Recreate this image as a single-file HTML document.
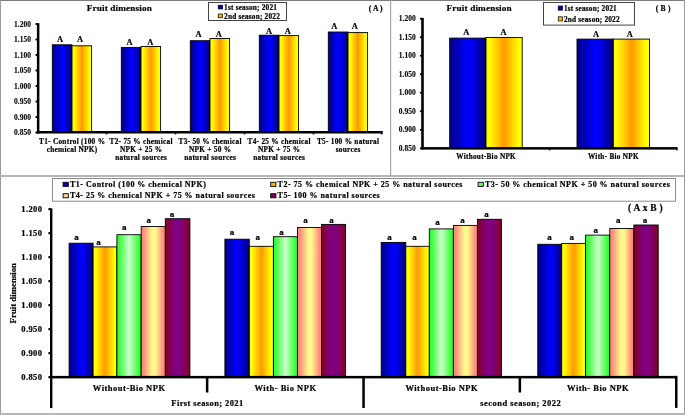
<!DOCTYPE html>
<html><head><meta charset="utf-8"><style>
html,body{margin:0;padding:0;background:#fff;overflow:hidden;}
svg{display:block;will-change:transform;}
text{font-family:"Liberation Serif", serif;font-weight:bold;fill:#000;stroke:#000;stroke-width:0.2px;}
.ns{stroke-width:0.1px;}
</style></head><body>
<svg width="685" height="415" viewBox="0 0 685 415">
<defs>
<linearGradient id="gBlue" x1="0" x2="1" y1="0" y2="0"><stop offset="0" stop-color="#000088"/><stop offset="0.5" stop-color="#0000ff"/><stop offset="0.58" stop-color="#0000fa"/><stop offset="1" stop-color="#000078"/></linearGradient>
<linearGradient id="gYel" x1="0" x2="1" y1="0" y2="0"><stop offset="0" stop-color="#ffff00"/><stop offset="0.1" stop-color="#ffff00"/><stop offset="0.5" stop-color="#ff9900"/><stop offset="0.9" stop-color="#ffff00"/><stop offset="1" stop-color="#ffff00"/></linearGradient>
<linearGradient id="gGrn" x1="0" x2="1" y1="0" y2="0"><stop offset="0" stop-color="#33ff33"/><stop offset="0.1" stop-color="#3cff3c"/><stop offset="0.5" stop-color="#ccffcc"/><stop offset="0.9" stop-color="#3cff3c"/><stop offset="1" stop-color="#22ee22"/></linearGradient>
<linearGradient id="gPch" x1="0" x2="1" y1="0" y2="0"><stop offset="0" stop-color="#ff8a7a"/><stop offset="0.1" stop-color="#ff8c7c"/><stop offset="0.45" stop-color="#fff88c"/><stop offset="0.6" stop-color="#fff88c"/><stop offset="0.9" stop-color="#ff8c7c"/><stop offset="1" stop-color="#ff8a7a"/></linearGradient>
<linearGradient id="gPur" x1="0" x2="1" y1="0" y2="0"><stop offset="0" stop-color="#850022"/><stop offset="0.38" stop-color="#800080"/><stop offset="0.62" stop-color="#800080"/><stop offset="1" stop-color="#850022"/></linearGradient>
</defs>
<rect x="0.00" y="0.00" width="685.00" height="415.00" fill="#fff" />
<text x="119.38" y="10.90" font-size="9.2" text-anchor="middle"  letter-spacing="0.15">Fruit dimension</text>
<rect x="208.5" y="2.5" width="78" height="18" fill="#fff" stroke="#444" stroke-width="1"/>
<rect x="218.20" y="5.20" width="4.40" height="3.80" fill="#0000cc" stroke="#000" stroke-width="0.7"/>
<rect x="218.20" y="14.00" width="4.40" height="3.80" fill="#ffb300" stroke="#000" stroke-width="0.7"/>
<text x="224.10" y="9.70" font-size="7.3" text-anchor="start"  letter-spacing="0.2">1st season; 2021</text>
<text x="224.10" y="18.90" font-size="7.3" text-anchor="start"  letter-spacing="0.2">2nd season; 2022</text>
<text x="375.72" y="10.60" font-size="7.6" text-anchor="middle"  letter-spacing="0.05">( A )</text>
<text x="31.15" y="26.60" font-size="7.5" text-anchor="end" class="ns" letter-spacing="0.05">1.200</text>
<rect x="35.40" y="23.00" width="2.50" height="2.00" fill="#000" rx="0.9"/>
<text x="31.15" y="42.09" font-size="7.5" text-anchor="end" class="ns" letter-spacing="0.05">1.150</text>
<rect x="35.40" y="38.49" width="2.50" height="2.00" fill="#000" rx="0.9"/>
<text x="31.15" y="57.57" font-size="7.5" text-anchor="end" class="ns" letter-spacing="0.05">1.100</text>
<rect x="35.40" y="53.97" width="2.50" height="2.00" fill="#000" rx="0.9"/>
<text x="31.15" y="73.06" font-size="7.5" text-anchor="end" class="ns" letter-spacing="0.05">1.050</text>
<rect x="35.40" y="69.46" width="2.50" height="2.00" fill="#000" rx="0.9"/>
<text x="31.15" y="88.54" font-size="7.5" text-anchor="end" class="ns" letter-spacing="0.05">1.000</text>
<rect x="35.40" y="84.94" width="2.50" height="2.00" fill="#000" rx="0.9"/>
<text x="31.15" y="104.03" font-size="7.5" text-anchor="end" class="ns" letter-spacing="0.05">0.950</text>
<rect x="35.40" y="100.43" width="2.50" height="2.00" fill="#000" rx="0.9"/>
<text x="31.15" y="119.51" font-size="7.5" text-anchor="end" class="ns" letter-spacing="0.05">0.900</text>
<rect x="35.40" y="115.91" width="2.50" height="2.00" fill="#000" rx="0.9"/>
<text x="31.15" y="135.00" font-size="7.5" text-anchor="end" class="ns" letter-spacing="0.05">0.850</text>
<rect x="35.40" y="131.40" width="2.50" height="2.00" fill="#000" rx="0.9"/>
<rect x="52.30" y="44.80" width="19.70" height="87.60" fill="url(#gBlue)" stroke="#000" stroke-width="0.9"/>
<rect x="72.00" y="45.80" width="19.60" height="86.60" fill="url(#gYel)" stroke="#000" stroke-width="0.9"/>
<text x="60.00" y="41.90" font-size="8.4" text-anchor="middle" >A</text>
<text x="80.10" y="41.90" font-size="8.4" text-anchor="middle" >A</text>
<text x="72.14" y="143.60" font-size="7.3" text-anchor="middle"  letter-spacing="0.27">T1- Control (100 %</text>
<text x="72.14" y="151.65" font-size="7.3" text-anchor="middle"  letter-spacing="0.27">chemical NPK)</text>
<rect x="121.30" y="47.40" width="19.70" height="85.00" fill="url(#gBlue)" stroke="#000" stroke-width="0.9"/>
<rect x="141.00" y="46.50" width="19.60" height="85.90" fill="url(#gYel)" stroke="#000" stroke-width="0.9"/>
<text x="129.60" y="45.20" font-size="8.4" text-anchor="middle" >A</text>
<text x="150.20" y="45.20" font-size="8.4" text-anchor="middle" >A</text>
<text x="141.13" y="143.60" font-size="7.3" text-anchor="middle"  letter-spacing="0.27">T2- 75 % chemical</text>
<text x="141.13" y="151.65" font-size="7.3" text-anchor="middle"  letter-spacing="0.27">NPK + 25 %</text>
<text x="141.13" y="159.70" font-size="7.3" text-anchor="middle"  letter-spacing="0.27">natural sources</text>
<rect x="190.30" y="40.70" width="19.70" height="91.70" fill="url(#gBlue)" stroke="#000" stroke-width="0.9"/>
<rect x="210.00" y="38.50" width="19.60" height="93.90" fill="url(#gYel)" stroke="#000" stroke-width="0.9"/>
<text x="198.50" y="36.70" font-size="8.4" text-anchor="middle" >A</text>
<text x="218.90" y="36.70" font-size="8.4" text-anchor="middle" >A</text>
<text x="210.13" y="143.60" font-size="7.3" text-anchor="middle"  letter-spacing="0.27">T3- 50 % chemical</text>
<text x="210.13" y="151.65" font-size="7.3" text-anchor="middle"  letter-spacing="0.27">NPK + 50 %</text>
<text x="210.13" y="159.70" font-size="7.3" text-anchor="middle"  letter-spacing="0.27">natural sources</text>
<rect x="259.30" y="35.20" width="19.70" height="97.20" fill="url(#gBlue)" stroke="#000" stroke-width="0.9"/>
<rect x="279.00" y="35.60" width="19.60" height="96.80" fill="url(#gYel)" stroke="#000" stroke-width="0.9"/>
<text x="269.10" y="33.90" font-size="8.4" text-anchor="middle" >A</text>
<text x="287.70" y="33.90" font-size="8.4" text-anchor="middle" >A</text>
<text x="279.13" y="143.60" font-size="7.3" text-anchor="middle"  letter-spacing="0.27">T4- 25 % chemical</text>
<text x="279.13" y="151.65" font-size="7.3" text-anchor="middle"  letter-spacing="0.27">NPK + 75 %</text>
<text x="279.13" y="159.70" font-size="7.3" text-anchor="middle"  letter-spacing="0.27">natural sources</text>
<rect x="328.30" y="32.00" width="19.70" height="100.40" fill="url(#gBlue)" stroke="#000" stroke-width="0.9"/>
<rect x="348.00" y="32.60" width="19.60" height="99.80" fill="url(#gYel)" stroke="#000" stroke-width="0.9"/>
<text x="334.30" y="29.00" font-size="8.4" text-anchor="middle" >A</text>
<text x="354.90" y="29.00" font-size="8.4" text-anchor="middle" >A</text>
<text x="348.13" y="143.60" font-size="7.3" text-anchor="middle"  letter-spacing="0.27">T5- 100 % natural</text>
<text x="348.13" y="151.65" font-size="7.3" text-anchor="middle"  letter-spacing="0.27">sources</text>
<rect x="36.90" y="23.20" width="2.50" height="110.40" fill="#000" />
<rect x="36.90" y="131.00" width="345.60" height="2.50" fill="#000" />
<rect x="105.70" y="132.40" width="1.60" height="2.00" fill="#000" />
<rect x="174.70" y="132.40" width="1.60" height="2.00" fill="#000" />
<rect x="243.70" y="132.40" width="1.60" height="2.00" fill="#000" />
<rect x="312.70" y="132.40" width="1.60" height="2.00" fill="#000" />
<rect x="380.90" y="131.40" width="1.60" height="3.00" fill="#000" />
<text x="479.18" y="10.90" font-size="9.2" text-anchor="middle"  letter-spacing="0.15">Fruit dimension</text>
<rect x="543.5" y="2.5" width="91" height="22.6" fill="#fff" stroke="#444" stroke-width="1"/>
<rect x="558.20" y="6.00" width="4.40" height="4.20" fill="#0000cc" stroke="#000" stroke-width="0.7"/>
<rect x="558.20" y="16.80" width="4.40" height="4.20" fill="#ffb300" stroke="#000" stroke-width="0.7"/>
<text x="563.90" y="11.00" font-size="7.3" text-anchor="start"  letter-spacing="0.2">1st season; 2021</text>
<text x="563.90" y="22.20" font-size="7.3" text-anchor="start"  letter-spacing="0.2">2nd season; 2022</text>
<text x="663.20" y="11.00" font-size="7.6" text-anchor="middle"  letter-spacing="0.2">( B )</text>
<text x="415.85" y="21.30" font-size="7.5" text-anchor="end" class="ns" letter-spacing="0.05">1.200</text>
<rect x="419.90" y="17.70" width="2.50" height="2.00" fill="#000" rx="0.9"/>
<text x="415.85" y="39.81" font-size="7.5" text-anchor="end" class="ns" letter-spacing="0.05">1.150</text>
<rect x="419.90" y="36.21" width="2.50" height="2.00" fill="#000" rx="0.9"/>
<text x="415.85" y="58.33" font-size="7.5" text-anchor="end" class="ns" letter-spacing="0.05">1.100</text>
<rect x="419.90" y="54.73" width="2.50" height="2.00" fill="#000" rx="0.9"/>
<text x="415.85" y="76.84" font-size="7.5" text-anchor="end" class="ns" letter-spacing="0.05">1.050</text>
<rect x="419.90" y="73.24" width="2.50" height="2.00" fill="#000" rx="0.9"/>
<text x="415.85" y="95.36" font-size="7.5" text-anchor="end" class="ns" letter-spacing="0.05">1.000</text>
<rect x="419.90" y="91.76" width="2.50" height="2.00" fill="#000" rx="0.9"/>
<text x="415.85" y="113.87" font-size="7.5" text-anchor="end" class="ns" letter-spacing="0.05">0.950</text>
<rect x="419.90" y="110.27" width="2.50" height="2.00" fill="#000" rx="0.9"/>
<text x="415.85" y="132.39" font-size="7.5" text-anchor="end" class="ns" letter-spacing="0.05">0.900</text>
<rect x="419.90" y="128.79" width="2.50" height="2.00" fill="#000" rx="0.9"/>
<text x="415.85" y="150.90" font-size="7.5" text-anchor="end" class="ns" letter-spacing="0.05">0.850</text>
<rect x="419.90" y="147.30" width="2.50" height="2.00" fill="#000" rx="0.9"/>
<rect x="449.70" y="38.10" width="36.30" height="110.20" fill="url(#gBlue)" stroke="#000" stroke-width="0.9"/>
<rect x="486.00" y="37.50" width="36.20" height="110.80" fill="url(#gYel)" stroke="#000" stroke-width="0.9"/>
<text x="466.40" y="34.50" font-size="8.4" text-anchor="middle" >A</text>
<text x="503.50" y="34.50" font-size="8.4" text-anchor="middle" >A</text>
<text x="486.15" y="158.60" font-size="7.2" text-anchor="middle"  letter-spacing="0.3">Without-Bio NPK</text>
<rect x="577.00" y="39.10" width="36.30" height="109.20" fill="url(#gBlue)" stroke="#000" stroke-width="0.9"/>
<rect x="613.30" y="39.10" width="36.20" height="109.20" fill="url(#gYel)" stroke="#000" stroke-width="0.9"/>
<text x="596.00" y="36.60" font-size="8.4" text-anchor="middle" >A</text>
<text x="629.80" y="36.60" font-size="8.4" text-anchor="middle" >A</text>
<text x="613.45" y="158.60" font-size="7.2" text-anchor="middle"  letter-spacing="0.3">With- Bio NPK</text>
<rect x="421.20" y="17.90" width="2.60" height="131.50" fill="#000" />
<rect x="421.20" y="147.10" width="256.00" height="2.50" fill="#000" />
<rect x="548.80" y="148.30" width="1.60" height="2.00" fill="#000" />
<rect x="676.00" y="147.30" width="1.60" height="3.00" fill="#000" />
<rect x="52.5" y="178.5" width="623" height="22.7" fill="#fff" stroke="#8a8a8a" stroke-width="1"/>
<rect x="63.10" y="182.30" width="5.20" height="4.10" fill="#0000cc" stroke="#000" stroke-width="0.9"/>
<text x="70.00" y="187.30" font-size="8.0" text-anchor="start"  letter-spacing="0.48">T1- Control (100 % chemical NPK)</text>
<rect x="270.70" y="182.30" width="5.20" height="4.10" fill="#ffb300" stroke="#000" stroke-width="0.9"/>
<text x="277.60" y="187.30" font-size="8.0" text-anchor="start"  letter-spacing="0.48">T2- 75 % chemical NPK + 25 % natural sources</text>
<rect x="478.10" y="182.30" width="5.20" height="4.10" fill="#66ff66" stroke="#000" stroke-width="0.9"/>
<text x="485.00" y="187.30" font-size="8.0" text-anchor="start"  letter-spacing="0.48">T3- 50 % chemical NPK + 50 % natural sources</text>
<rect x="63.10" y="193.70" width="5.20" height="4.10" fill="#ffd699" stroke="#000" stroke-width="0.9"/>
<text x="70.00" y="198.10" font-size="8.0" text-anchor="start"  letter-spacing="0.48">T4- 25 % chemical NPK + 75 % natural sources</text>
<rect x="270.70" y="193.70" width="5.20" height="4.10" fill="#800060" stroke="#000" stroke-width="0.9"/>
<text x="277.60" y="198.10" font-size="8.0" text-anchor="start"  letter-spacing="0.48">T5- 100 % natural sources</text>
<text x="645.42" y="211.00" font-size="9.5" text-anchor="middle"  letter-spacing="0.25">( A x B )</text>
<text x="42.40" y="212.20" font-size="8.5" text-anchor="end"  letter-spacing="0.4">1.200</text>
<rect x="48.30" y="208.10" width="2.60" height="2.20" fill="#000" rx="0.9"/>
<text x="42.40" y="236.20" font-size="8.5" text-anchor="end"  letter-spacing="0.4">1.150</text>
<rect x="48.30" y="232.10" width="2.60" height="2.20" fill="#000" rx="0.9"/>
<text x="42.40" y="260.20" font-size="8.5" text-anchor="end"  letter-spacing="0.4">1.100</text>
<rect x="48.30" y="256.10" width="2.60" height="2.20" fill="#000" rx="0.9"/>
<text x="42.40" y="284.20" font-size="8.5" text-anchor="end"  letter-spacing="0.4">1.050</text>
<rect x="48.30" y="280.10" width="2.60" height="2.20" fill="#000" rx="0.9"/>
<text x="42.40" y="308.20" font-size="8.5" text-anchor="end"  letter-spacing="0.4">1.000</text>
<rect x="48.30" y="304.10" width="2.60" height="2.20" fill="#000" rx="0.9"/>
<text x="42.40" y="332.20" font-size="8.5" text-anchor="end"  letter-spacing="0.4">0.950</text>
<rect x="48.30" y="328.10" width="2.60" height="2.20" fill="#000" rx="0.9"/>
<text x="42.40" y="356.20" font-size="8.5" text-anchor="end"  letter-spacing="0.4">0.900</text>
<rect x="48.30" y="352.10" width="2.60" height="2.20" fill="#000" rx="0.9"/>
<text x="42.40" y="380.20" font-size="8.5" text-anchor="end"  letter-spacing="0.4">0.850</text>
<rect x="48.30" y="376.10" width="2.60" height="2.20" fill="#000" rx="0.9"/>
<rect x="69.10" y="243.20" width="24.00" height="134.00" fill="url(#gBlue)" stroke="#000" stroke-width="0.9"/>
<text x="76.40" y="240.10" font-size="9.0" text-anchor="middle" >a</text>
<rect x="93.10" y="246.90" width="23.80" height="130.30" fill="url(#gYel)" stroke="#000" stroke-width="0.9"/>
<text x="98.60" y="244.60" font-size="9.0" text-anchor="middle" >a</text>
<rect x="116.90" y="234.70" width="24.30" height="142.50" fill="url(#gGrn)" stroke="#000" stroke-width="0.9"/>
<text x="124.20" y="229.90" font-size="9.0" text-anchor="middle" >a</text>
<rect x="141.20" y="226.50" width="24.10" height="150.70" fill="url(#gPch)" stroke="#000" stroke-width="0.9"/>
<text x="148.70" y="222.70" font-size="9.0" text-anchor="middle" >a</text>
<rect x="165.30" y="218.70" width="24.60" height="158.50" fill="url(#gPur)" stroke="#000" stroke-width="0.9"/>
<text x="171.90" y="216.60" font-size="9.0" text-anchor="middle" >a</text>
<rect x="224.90" y="239.20" width="24.40" height="138.00" fill="url(#gBlue)" stroke="#000" stroke-width="0.9"/>
<text x="231.90" y="234.60" font-size="9.0" text-anchor="middle" >a</text>
<rect x="249.30" y="246.30" width="24.10" height="130.90" fill="url(#gYel)" stroke="#000" stroke-width="0.9"/>
<text x="257.80" y="240.10" font-size="9.0" text-anchor="middle" >a</text>
<rect x="273.40" y="236.70" width="24.10" height="140.50" fill="url(#gGrn)" stroke="#000" stroke-width="0.9"/>
<text x="281.60" y="234.60" font-size="9.0" text-anchor="middle" >a</text>
<rect x="297.50" y="227.50" width="24.00" height="149.70" fill="url(#gPch)" stroke="#000" stroke-width="0.9"/>
<text x="305.50" y="223.10" font-size="9.0" text-anchor="middle" >a</text>
<rect x="321.50" y="224.40" width="24.10" height="152.80" fill="url(#gPur)" stroke="#000" stroke-width="0.9"/>
<text x="331.40" y="223.10" font-size="9.0" text-anchor="middle" >a</text>
<rect x="381.20" y="242.40" width="24.60" height="134.80" fill="url(#gBlue)" stroke="#000" stroke-width="0.9"/>
<text x="389.40" y="240.10" font-size="9.0" text-anchor="middle" >a</text>
<rect x="405.80" y="246.30" width="23.50" height="130.90" fill="url(#gYel)" stroke="#000" stroke-width="0.9"/>
<text x="414.40" y="240.10" font-size="9.0" text-anchor="middle" >a</text>
<rect x="429.30" y="228.90" width="24.10" height="148.30" fill="url(#gGrn)" stroke="#000" stroke-width="0.9"/>
<text x="437.50" y="225.40" font-size="9.0" text-anchor="middle" >a</text>
<rect x="453.40" y="225.40" width="24.00" height="151.80" fill="url(#gPch)" stroke="#000" stroke-width="0.9"/>
<text x="462.40" y="223.10" font-size="9.0" text-anchor="middle" >a</text>
<rect x="477.40" y="219.30" width="24.10" height="157.90" fill="url(#gPur)" stroke="#000" stroke-width="0.9"/>
<text x="486.40" y="217.00" font-size="9.0" text-anchor="middle" >a</text>
<rect x="537.80" y="244.30" width="23.90" height="132.90" fill="url(#gBlue)" stroke="#000" stroke-width="0.9"/>
<text x="549.40" y="240.10" font-size="9.0" text-anchor="middle" >a</text>
<rect x="561.70" y="243.40" width="23.90" height="133.80" fill="url(#gYel)" stroke="#000" stroke-width="0.9"/>
<text x="571.70" y="240.10" font-size="9.0" text-anchor="middle" >a</text>
<rect x="585.60" y="235.10" width="24.20" height="142.10" fill="url(#gGrn)" stroke="#000" stroke-width="0.9"/>
<text x="595.80" y="233.00" font-size="9.0" text-anchor="middle" >a</text>
<rect x="609.80" y="228.50" width="24.10" height="148.70" fill="url(#gPch)" stroke="#000" stroke-width="0.9"/>
<text x="618.30" y="222.70" font-size="9.0" text-anchor="middle" >a</text>
<rect x="633.90" y="225.00" width="24.30" height="152.20" fill="url(#gPur)" stroke="#000" stroke-width="0.9"/>
<text x="644.90" y="222.70" font-size="9.0" text-anchor="middle" >a</text>
<text x="129.20" y="391.00" font-size="8.5" text-anchor="middle"  letter-spacing="0.5">Without-Bio NPK</text>
<text x="285.50" y="391.00" font-size="8.5" text-anchor="middle"  letter-spacing="0.5">With- Bio NPK</text>
<text x="441.80" y="391.00" font-size="8.5" text-anchor="middle"  letter-spacing="0.5">Without-Bio NPK</text>
<text x="598.10" y="391.00" font-size="8.5" text-anchor="middle"  letter-spacing="0.5">With- Bio NPK</text>
<text x="207.50" y="406.00" font-size="8.5" text-anchor="middle"  letter-spacing="0.4">First season; 2021</text>
<text x="520.73" y="405.60" font-size="8.5" text-anchor="middle"  letter-spacing="0.45">second season; 2022</text>
<text x="0" y="0" font-size="8.8" text-anchor="middle" transform="translate(16.0,293.2) rotate(-90)">Fruit dimension</text>
<rect x="50.00" y="208.30" width="2.40" height="199.80" fill="#000" />
<rect x="50.00" y="375.90" width="627.00" height="2.50" fill="#000" />
<rect x="205.90" y="377.00" width="2.50" height="15.50" fill="#000" />
<rect x="362.30" y="377.00" width="2.50" height="31.00" fill="#000" />
<rect x="518.60" y="377.00" width="2.50" height="15.50" fill="#000" />
<rect x="675.00" y="375.90" width="2.50" height="32.00" fill="#000" />
<rect x="0.00" y="0.00" width="685.00" height="1.00" fill="#7c7c7c" />
<rect x="0.00" y="0.00" width="1.00" height="415.00" fill="#9a9a9a" />
<rect x="684.00" y="0.00" width="1.00" height="415.00" fill="#9a9a9a" />
<rect x="0.00" y="175.00" width="685.00" height="2.00" fill="#b4b4b4" />
<rect x="390.00" y="0.00" width="1.20" height="176.00" fill="#a8a8a8" />
<rect x="0.00" y="413.00" width="685.00" height="2.00" fill="#b8b8b8" />
</svg>
</body></html>
